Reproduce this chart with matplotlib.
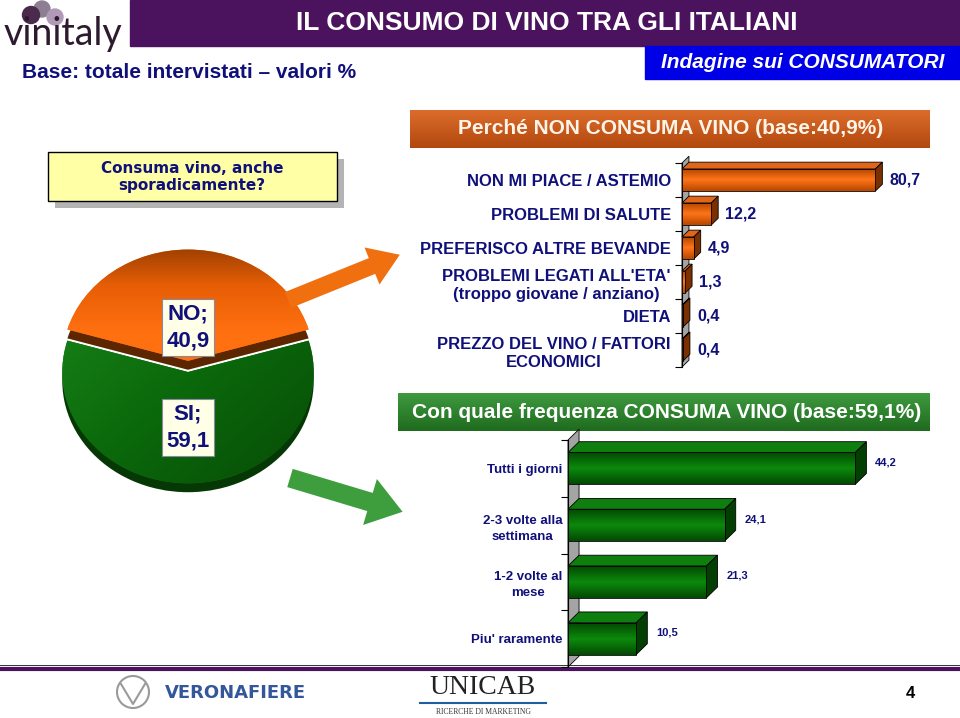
import numpy as np
import matplotlib
matplotlib.use("Agg")
import matplotlib.pyplot as plt
from matplotlib.patches import Rectangle, Polygon, FancyArrow, Circle
from matplotlib.colors import LinearSegmentedColormap

plt.rcParams['font.family'] = ['Liberation Sans', 'DejaVu Sans']

# --- data ---
pie_labels = ["NO", "SI"]
pie_values = [40.9, 59.1]

no_reasons = ["NON MI PIACE / ASTEMIO", "PROBLEMI DI SALUTE", "PREFERISCO ALTRE BEVANDE",
              "PROBLEMI LEGATI ALL'ETA'\n(troppo giovane / anziano)", "DIETA",
              "PREZZO DEL VINO / FATTORI\nECONOMICI"]
no_values = [80.7, 12.2, 4.9, 1.3, 0.4, 0.4]

freq_labels = ["Tutti i giorni", "2-3 volte alla\nsettimana", "1-2 volte al\nmese", "Piu' raramente"]
freq_values = [44.2, 24.1, 21.3, 10.5]

W, H = 960, 718
NAVY = '#10107A'
PURPLE = '#4B125E'


def fmt(v):
    return f"{v:.1f}".replace('.', ',')


fig = plt.figure(figsize=(W / 100, H / 100), dpi=100)


def px_axes(x0, y0, x1, y1):
    # axes from a pixel box, origin top-left
    return fig.add_axes([x0 / W, 1 - y1 / H, (x1 - x0) / W, (y1 - y0) / H])


def cmap_of(*cols):
    return LinearSegmentedColormap.from_list('c', list(cols))


# background / decoration axes
bg = px_axes(0, 0, W, H)
bg.set_axis_off()


def band(x0, y0, x1, y1, c_top, c_bot):
    bg.imshow(np.linspace(0, 1, 64).reshape(-1, 1), extent=(x0, x1, y1, y0),
              cmap=cmap_of(c_top, c_bot), aspect='auto', zorder=1)


# header
bg.add_patch(Rectangle((130, 0), 830, 46, color=PURPLE, zorder=1))
bg.text(547, 23, "IL CONSUMO DI VINO TRA GLI ITALIANI", color='white', fontsize=19,
        fontweight='bold', ha='center', va='center', zorder=2)
bg.add_patch(Rectangle((645, 46), 315, 33, color='#0000E6', zorder=1))
bg.text(803, 63, "Indagine sui CONSUMATORI", color='white', fontsize=15, fontweight='bold',
        style='italic', ha='center', va='center', zorder=2)
bg.text(22, 72, "Base: totale intervistati – valori %", color=NAVY, fontsize=15,
        fontweight='bold', va='center', zorder=2)

# vinitaly logo
for (cx, cy, r, c) in [(42, 9, 8, '#8E7E92'), (55, 17, 8, '#B09AB8'), (31, 15, 8.5, '#4A2B4C')]:
    bg.add_patch(Circle((cx, cy), r, color=c, zorder=2))
bg.text(4, 45, "vinitaly", color='#2E1A2E', fontsize=27, family='Lato', va='baseline', zorder=2)

# section title bands
band(410, 110, 930, 148, '#DC6C2A', '#B2480F')
bg.text(671, 129, "Perché NON CONSUMA VINO (base:40,9%)", color='#FFF4E8', fontsize=15,
        fontweight='bold', ha='center', va='center', zorder=2)
band(398, 393, 930, 431, '#3E9A3E', '#1F6B1F')
bg.text(667, 412, "Con quale frequenza CONSUMA VINO (base:59,1%)", color='white', fontsize=15,
        fontweight='bold', ha='center', va='center', zorder=2)

# question box
bg.add_patch(Rectangle((55, 159), 289, 49, fc='#B4B4B4', ec='none', zorder=1))
bg.add_patch(Rectangle((48, 152), 289, 49, fc='#FFFFA6', ec='black', lw=1, zorder=2))
bg.text(192, 177, "Consuma vino, anche\nsporadicamente?", color=NAVY, fontsize=11,
        fontweight='bold', family='DejaVu Sans', ha='center', va='center', linespacing=1.1, zorder=3)

# footer
bg.plot([0, W], [665, 665], color='#333333', lw=0.7, zorder=2)
bg.plot([0, W], [669, 669], color=PURPLE, lw=3, zorder=2)
bg.add_patch(Circle((133, 692), 16, fill=False, ec='#9A9A9A', lw=1.5, zorder=2))
bg.plot([121, 133, 145], [684, 704, 684], color='#9A9A9A', lw=1.5, zorder=2)
bg.text(165, 693, "VERONAFIERE", color='#34579B', fontsize=13, fontweight='bold',
        family='DejaVu Sans', va='center', zorder=2)
bg.text(483, 688, "UNICAB", color='#222222', fontsize=20, family='Liberation Serif',
        ha='center', va='center', zorder=2)
bg.plot([420, 546], [703, 703], color='#1F5F9F', lw=1.5, zorder=2)
bg.text(483, 712, "RICERCHE DI MARKETING", color='#333333', fontsize=5.5, family='Liberation Serif',
        ha='center', va='center', zorder=2)
bg.text(910, 694, "4", color='black', fontsize=12, fontweight='bold', ha='center', va='center', zorder=2)

bg.set_xlim(0, W)
bg.set_ylim(H, 0)

# --- pie ---
pa = px_axes(56, 244, 320, 500)
start = 90 - pie_values[0] / sum(pie_values) * 180
pa.pie(pie_values, colors=['#5C2600', '#063806'], startangle=start, explode=[0.1, 0],
       center=(0, -0.08), wedgeprops=dict(linewidth=0))
wedges, _ = pa.pie(pie_values, colors=['#F06A0A', '#0B7A0B'], startangle=start,
                   explode=[0.1, 0], wedgeprops=dict(linewidth=0))
gx, gy = np.meshgrid(np.linspace(-1, 1, 100), np.linspace(1, -1, 100))
pie_grads = [(np.clip((1.1 - gy) / 0.8, 0, 1), cmap_of('#8E3A00', '#E85E06', '#FF7010')),
             ((gx * 0.5 - gy * 0.5 + 1) / 2, cmap_of('#1E8C1E', '#0B6A0B', '#064606'))]
for w, (g, cm) in zip(wedges, pie_grads):
    im = pa.imshow(g, extent=(-1.2, 1.2, -1.2, 1.2), cmap=cm, aspect='auto', zorder=1.5)
    im.set_clip_path(w)
label_y = [0.4, -0.5]
for lab, val, ly in zip(pie_labels, pie_values, label_y):
    pa.text(0, ly, f"{lab};\n{fmt(val)}", color=NAVY, fontsize=16, fontweight='bold',
            ha='center', va='center', multialignment='center', linespacing=1.4, zorder=5,
            bbox=dict(boxstyle='square,pad=0.2', fc='#FFFFE8', ec='#8888A0', lw=0.8))
pa.set_aspect('auto')
pa.set_xlim(-1.05, 1.05)
pa.set_ylim(-1.15, 1.15)
pa.set_axis_off()


# --- 3D-looking horizontal bars ---
def bar3d(ax, labels, values, xmax, height, dx, dy, front, top_c, side_c,
          lab_size, lab_weight, val_size, val_weight, val_off, pad, lspace):
    n = len(values)
    ys = np.arange(n)
    ax.add_patch(Polygon([(0, n - 0.5), (dx, n - 0.5 - dy), (dx, -0.5 - dy), (0, -0.5)],
                         closed=True, fc='#A4A4A4', ec='black', lw=0.6, zorder=1, clip_on=False))
    bars = ax.barh(ys, values, height=height, color=front[1], edgecolor='black', linewidth=0.6, zorder=3)
    grad = np.linspace(0, 1, 40).reshape(-1, 1)
    for b in bars:
        x0, y0, w, h = b.get_x(), b.get_y(), b.get_width(), b.get_height()
        ax.add_patch(Polygon([(x0, y0), (x0 + dx, y0 - dy), (x0 + w + dx, y0 - dy), (x0 + w, y0)],
                             closed=True, fc=top_c, ec='black', lw=0.6, zorder=3, clip_on=False))
        ax.add_patch(Polygon([(x0 + w, y0), (x0 + w + dx, y0 - dy), (x0 + w + dx, y0 + h - dy),
                              (x0 + w, y0 + h)], closed=True, fc=side_c, ec='black', lw=0.6,
                             zorder=3, clip_on=False))
        im = ax.imshow(grad, extent=(x0, x0 + w, y0 + h, y0), cmap=cmap_of(*front),
                       aspect='auto', zorder=3.2)
        im.set_clip_path(b)
        b.set_facecolor('none')
        b.set_zorder(3.4)
    for y, v in zip(ys, values):
        ax.annotate(fmt(v), xy=(v, y), xytext=val_off, textcoords='offset pixels',
                    color=NAVY, fontsize=val_size, fontweight=val_weight, va='center', ha='left')
    ax.set_xlim(0, xmax)
    ax.set_ylim(n - 0.5, -0.5)
    ax.set_yticks(ys, labels, fontsize=lab_size, fontweight=lab_weight, color=NAVY)
    for t in ax.get_yticklabels():
        t.set_multialignment('center')
        t.set_linespacing(lspace)
    ax.set_yticks(np.arange(n + 1) - 0.5, minor=True)
    ax.tick_params(axis='y', which='major', length=0, pad=pad)
    ax.tick_params(axis='y', which='minor', length=5, width=0.8, direction='out')
    ax.xaxis.set_visible(False)
    for s in ['top', 'right', 'bottom']:
        ax.spines[s].set_visible(False)
    ax.spines['left'].set_linewidth(0.8)
    ax.set_facecolor('none')


ax1 = px_axes(682, 163, 960, 367)
bar3d(ax1, no_reasons, no_values, xmax=116, height=0.65, dx=2.9, dy=0.2,
      front=('#B04400', '#FF7418', '#B84800'), top_c='#E2661A', side_c='#7A3000',
      lab_size=12, lab_weight='bold', val_size=11.5, val_weight='bold', val_off=(14, 0),
      pad=8, lspace=1.25)

ax2 = px_axes(568, 440, 960, 667)
bar3d(ax2, freq_labels, freq_values, xmax=60.3, height=0.56, dx=1.7, dy=0.19,
      front=('#034A03', '#0C8A0C', '#034A03'), top_c='#0E7E0E', side_c='#033F03',
      lab_size=9.5, lab_weight='bold', val_size=8, val_weight='bold', val_off=(20, 6),
      pad=4, lspace=1.45)

# --- arrows on top ---
ov = px_axes(0, 0, W, H)
ov.set_axis_off()
ov.set_xlim(0, W)
ov.set_ylim(H, 0)
ov.add_patch(FancyArrow(288, 300, 84, -34, width=17, head_width=40, head_length=30,
                        length_includes_head=False, color='#F07010', lw=0))
ov.add_patch(FancyArrow(290, 478, 80, 24, width=19, head_width=48, head_length=34,
                        length_includes_head=False, color='#3E9E3E', lw=0))

fig.savefig("out.png", dpi=100)
